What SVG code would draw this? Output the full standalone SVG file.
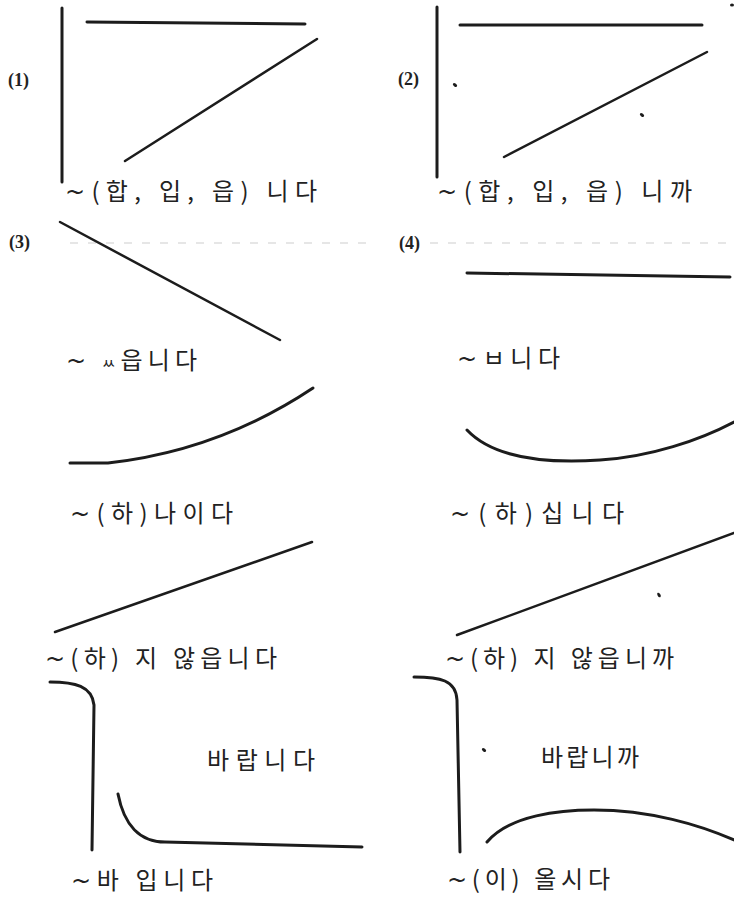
<svg xmlns="http://www.w3.org/2000/svg" width="734" height="898" viewBox="0 0 734 898">
<style>
.c{fill:none;stroke:#1c1c1c;stroke-width:3;stroke-linecap:round;stroke-linejoin:round}
.t{fill:none;stroke:#1c1c1c;stroke-width:2.5;stroke-linecap:round}
.k{font-family:"Noto Sans CJK KR","Noto Sans",sans-serif;font-size:24px;fill:#222}
.w{font-family:"DejaVu Sans",sans-serif;font-size:24px}
.n{font-family:"Liberation Serif",serif;font-size:18px;font-weight:bold;fill:#222}
.d{fill:#1c1c1c}
.f{stroke:#e6e6e6;stroke-width:2;stroke-dasharray:8 10;fill:none}
</style>
<rect width="734" height="898" fill="#fff"/>
<g id="panel1">
<text class="n" x="8" y="86">(1)</text>
<path class="c" d="M62 8 L62 182"/>
<path class="c" d="M87 22 L305 24"/>
<path class="t" d="M125 161 L317 39"/>
<text class="k" x="65" y="200" textLength="252" lengthAdjust="spacing"><tspan class="w">~</tspan>(합, 입, 읍) 니다</text>
</g>
<g id="panel2">
<text class="n" x="398" y="85">(2)</text>
<path class="c" d="M437 7 L437 177"/>
<path class="c" d="M460 25 L702 25"/>
<path class="t" d="M504 157 L707 52"/>
<ellipse class="d" cx="455" cy="85" rx="2.5" ry="1.5" transform="rotate(40 455 85)"/>
<ellipse class="d" cx="642" cy="115" rx="2.5" ry="1.5" transform="rotate(40 642 115)"/>
<ellipse class="d" cx="732" cy="5" rx="2" ry="1.5"/>
<text class="k" x="437" y="200" textLength="255" lengthAdjust="spacing"><tspan class="w">~</tspan>(합, 입, 읍) 니까</text>
</g>
<g id="panel3">
<text class="n" x="9" y="248">(3)</text>
<path class="f" d="M70 243 L367 243"/>
<path class="t" d="M60 222 L280 340"/>
<text class="k" x="66" y="369" textLength="131" lengthAdjust="spacing"><tspan class="w">~</tspan> <tspan font-size="15">ㅆ</tspan>읍니다</text>
<path class="c" d="M70 463 L108 463 C180 455 250 430 313 388"/>
<text class="k" x="70" y="522" textLength="163" lengthAdjust="spacing"><tspan class="w">~</tspan>(하)나이다</text>
<path class="t" d="M55 632 L312 542"/>
<text class="k" x="45" y="667" textLength="232" lengthAdjust="spacing"><tspan class="w">~</tspan>(하) 지 않읍니다</text>
</g>
<g id="panel4">
<text class="n" x="399" y="249">(4)</text>
<path class="f" d="M430 243 L734 243"/>
<path class="c" d="M467 273 L730 277"/>
<text class="k" x="457" y="367" textLength="103" lengthAdjust="spacing"><tspan class="w">~</tspan>ㅂ니다</text>
<path class="c" d="M467 430 C500 465 570 462 600 460 C650 457 700 440 734 422"/>
<text class="k" x="450" y="522" textLength="174" lengthAdjust="spacing"><tspan class="w">~</tspan>(하)십니다</text>
<path class="t" d="M457 635 L734 533"/>
<ellipse class="d" cx="659" cy="595" rx="2.5" ry="1.5" transform="rotate(60 659 595)"/>
<text class="k" x="445" y="667" textLength="229" lengthAdjust="spacing"><tspan class="w">~</tspan>(하) 지 않읍니까</text>
</g>
<g id="panel5">
<path class="c" d="M50 682 C75 682 92 686 94 705 L92 850"/>
<path class="c" d="M118 794 C124 825 140 842 165 842 L362 847"/>
<text class="k" x="207" y="769" textLength="108" lengthAdjust="spacing">바랍니다</text>
<text class="k" x="71" y="889" textLength="142" lengthAdjust="spacing"><tspan class="w">~</tspan>바 입니다</text>
</g>
<g id="panel6">
<path class="c" d="M414 677 C440 677 456 680 457 700 L460 852"/>
<ellipse class="d" cx="484" cy="750" rx="2.5" ry="1.5" transform="rotate(40 484 750)"/>
<text class="k" x="541" y="766" textLength="98" lengthAdjust="spacing">바랍니까</text>
<path class="c" d="M487 842 C510 815 560 810 594 810 C650 810 700 825 734 840"/>
<text class="k" x="447" y="888" textLength="163" lengthAdjust="spacing"><tspan class="w">~</tspan>(이) 올시다</text>
</g>
</svg>
